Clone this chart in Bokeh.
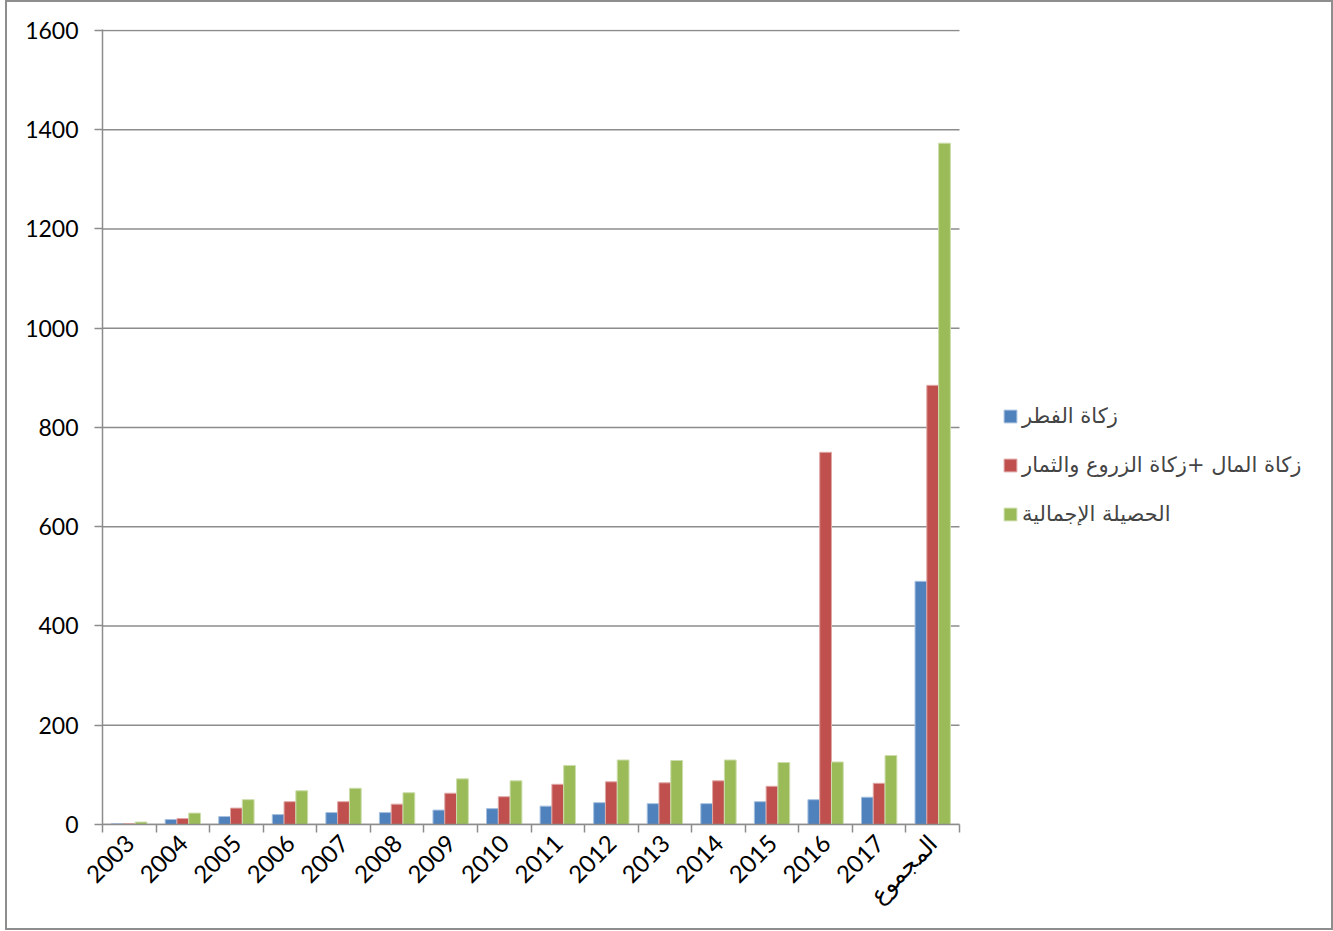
import numpy as np
from bokeh.plotting import figure
from bokeh.models import Range1d, FixedTicker, Legend, LegendItem
from bokeh.embed import file_html
from bokeh.resources import INLINE

# Annual zakat collections, by year and type
years = ["2003", "2004", "2005", "2006", "2007", "2008", "2009", "2010",
         "2011", "2012", "2013", "2014", "2015", "2016", "2017", "المجموع"]
zakat_fitr = [2, 10, 16, 20, 24, 24, 29, 32, 37, 44, 42, 42, 46, 50, 55, 490]
zakat_mal = [2, 12, 33, 46, 46, 41, 63, 56, 81, 86, 84, 88, 77, 750, 83, 885]
total = [5, 23, 50, 68, 73, 64, 92, 88, 119, 130, 129, 130, 125, 126, 139, 1373]

series_names = ["زكاة الفطر", "زكاة المال +زكاة الزروع والثمار", "الحصيلة الإجمالية"]
colors = ["#4F81BD", "#C0504D", "#9BBB59"]
edges = ["#A7C0DE", "#DFA8A6", "#CDDDAC"]
y_ticks = [0, 200, 400, 600, 800, 1000, 1200, 1400, 1600]

grey = "#8c8c8c"
num_font = "Lato"
ar_font = "DejaVu Sans"

# Canvas layout: the bars occupy the left part of the frame, the legend sits to its right
W, H = 1328, 930
left, right, top, bottom = 95, 10, 27, 108
bars_w = 857                      # pixel width taken by the 16 categories
frame_w = W - left - right
n = len(years)

p = figure(width=W, height=H, output_backend="svg", toolbar_location=None,
           x_range=Range1d(0, n * frame_w / bars_w), y_range=Range1d(0, 1602),
           min_border_left=left, min_border_right=right, min_border_top=top,
           min_border_bottom=bottom, margin=(0, 0, 0, 5),
           styles={"border": "2px solid #8e8e8e"})
p.outline_line_color = None
p.background_fill_color = "white"
p.border_fill_color = "white"
p.xgrid.grid_line_color = None
p.ygrid.grid_line_color = None

# horizontal gridlines spanning only the category area
p.segment(x0=[0] * len(y_ticks), x1=[n] * len(y_ticks), y0=y_ticks, y1=y_ticks,
          line_color=grey, line_width=1.5)

centers = np.arange(n) + 0.5
bar_w = 0.22
offsets = [-bar_w, 0.0, bar_w]
renderers = []
for vals, c, e, off in zip([zakat_fitr, zakat_mal, total], colors, edges, offsets):
    r = p.vbar(x=centers + off, top=vals, bottom=0, width=bar_w,
               fill_color=c, line_color=e, line_width=1)
    renderers.append(r)

# y axis
p.yaxis.ticker = FixedTicker(ticks=y_ticks)
p.yaxis.axis_line_color = grey
p.yaxis.axis_line_width = 1.5
p.yaxis.major_tick_line_color = grey
p.yaxis.major_tick_line_width = 1.5
p.yaxis.major_tick_out = 8
p.yaxis.major_tick_in = 0
p.yaxis.minor_tick_line_color = None
p.yaxis.major_label_text_font = num_font
p.yaxis.major_label_text_font_size = "23px"
p.yaxis.major_label_text_color = "black"
p.yaxis.major_label_standoff = 16

# x axis: labels at category centres, tick marks at category boundaries
p.xaxis.bounds = (0, n)
p.xaxis.ticker = FixedTicker(ticks=list(centers), minor_ticks=list(range(n + 1)))
p.xaxis.major_label_overrides = {float(c): y for c, y in zip(centers, years)}
p.xaxis.axis_line_color = grey
p.xaxis.axis_line_width = 1.5
p.xaxis.major_tick_line_color = None
p.xaxis.minor_tick_line_color = grey
p.xaxis.minor_tick_line_width = 1.5
p.xaxis.minor_tick_out = 8
p.xaxis.minor_tick_in = 0
p.xaxis.major_label_orientation = np.pi / 4
p.xaxis.major_label_text_font = num_font
p.xaxis.major_label_text_font_size = "24px"
p.xaxis.major_label_text_color = "black"
p.xaxis.major_label_standoff = 6

legend = Legend(items=[LegendItem(label=s, renderers=[r]) for s, r in zip(series_names, renderers)],
                location=(bars_w + 43, 298), border_line_color=None, background_fill_alpha=0,
                glyph_width=16, glyph_height=16, label_height=22, spacing=25,
                label_text_font=ar_font, label_text_font_size="21px",
                label_standoff=4, padding=0, margin=0)
p.add_layout(legend, "center")

open("out.html", "w").write(file_html(p, INLINE))
